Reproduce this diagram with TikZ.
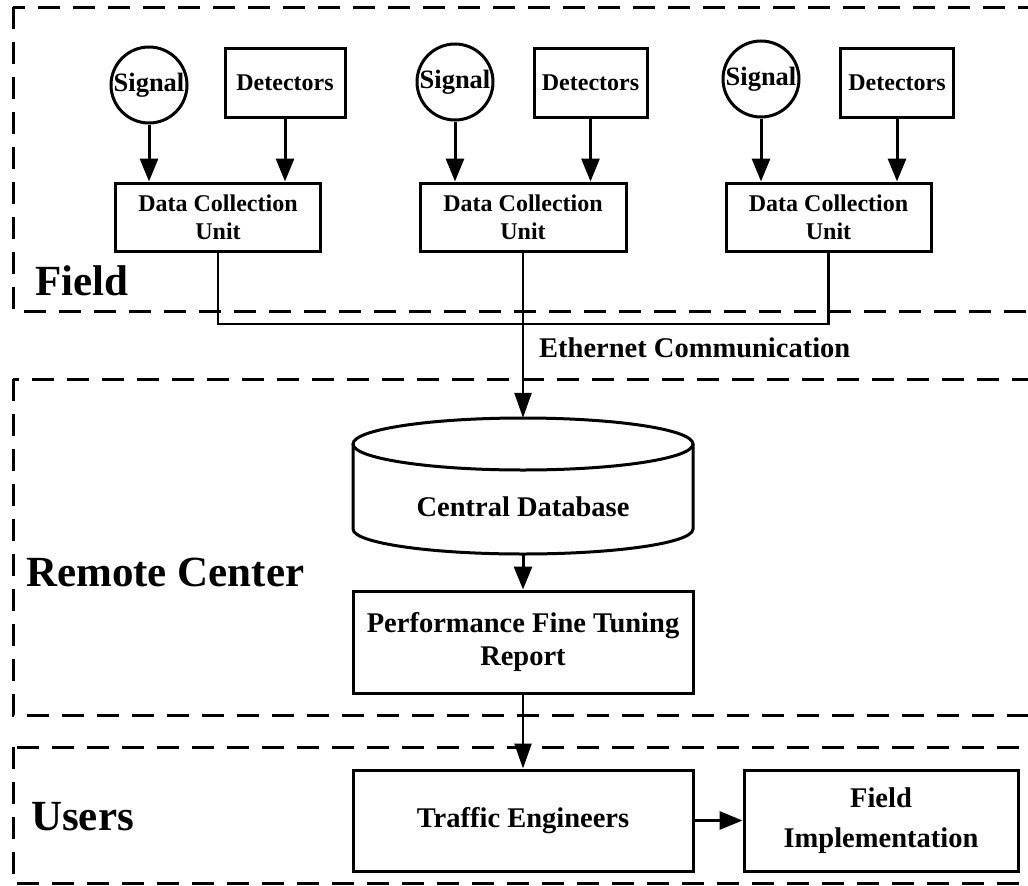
\documentclass[tikz,border=0pt]{standalone}
\usepackage{fontspec}
\setmainfont{Liberation Serif}
\usetikzlibrary{arrows.meta}

\begin{document}
\begin{tikzpicture}[x=1pt,y=-1pt,
  frame/.style={line width=3pt, dash pattern=on 22pt off 13pt},
  box/.style={draw, line width=3pt, inner sep=2pt, align=center},
  sigcirc/.style={draw, circle, line width=3pt, minimum size=76pt, inner sep=0pt,
    font=\fontsize{26.5}{28}\selectfont\bfseries},
  small/.style={font=\fontsize{24}{28}\selectfont\bfseries},
  large/.style={font=\fontsize{28.5}{33}\selectfont\bfseries},
  zone/.style={font=\fontsize{43}{48}\selectfont\bfseries, inner sep=0pt, anchor=base west},
  arr/.style={line width=3pt, -{Triangle[length=23pt,width=18pt]}},
  link/.style={line width=2.5pt},
]
\useasboundingbox (0,0) rectangle (1028,886);
\clip (0,0) rectangle (1028,886);

% dashed zone frames (they run past the right edge)
\draw[frame] (13,7) rectangle (1080,311);
\draw[frame] (13,379) rectangle (1080,715);
\draw[frame] (13,747) rectangle (1080,883);

\node[zone] (lfield) at (35,295) {Field};
\node[zone] (lremote) at (26,586) {Remote Center};
\node[zone] (lusers) at (31,830) {Users};

% field devices
\node[sigcirc] (sig1) at (149,85) {Signal};
\node[box, small, minimum width=120pt, minimum height=69pt] (det1) at (285,82.5) {Detectors};
\node[box, small, minimum width=205pt, minimum height=68pt] (dcu1) at (218,217) {Data Collection\\Unit};

\node[sigcirc] (sig2) at (455,82) {Signal};
\node[box, small, minimum width=113pt, minimum height=69pt] (det2) at (590.5,82.5) {Detectors};
\node[box, small, minimum width=206pt, minimum height=68pt] (dcu2) at (523,217) {Data Collection\\Unit};

\node[sigcirc] (sig3) at (761,79) {Signal};
\node[box, small, minimum width=113pt, minimum height=69pt] (det3) at (897,82.5) {Detectors};
\node[box, small, minimum width=205pt, minimum height=68pt] (dcu3) at (828.5,217) {Data Collection\\Unit};

\foreach \i in {1,2,3}{
  \draw[arr] (sig\i.south) -- (sig\i.south |- dcu\i.north);
  \draw[arr] (det\i.south) -- (det\i.south |- dcu\i.north);
}

% remote center
\node[minimum width=340pt, minimum height=136pt, inner sep=0pt] (db) at (523,486) {};
\draw[line width=3pt] (523,444) ellipse [x radius=170pt, y radius=26pt];
\draw[line width=3pt] (353,444) -- (353,529)
  arc[start angle=180, end angle=360, x radius=170pt, y radius=25pt] -- (693,444);
\node[large, inner sep=0pt] (dbtext) at (523,507) {Central Database};

\node[box, large, minimum width=340pt, minimum height=102pt] (pft) at (523,642)
  {Performance Fine Tuning\\Report};

% users
\node[box, large, minimum width=340pt, minimum height=101pt] (te) at (523,820.5) {Traffic Engineers};
\node[box, font=\fontsize{28.5}{40}\selectfont\bfseries, minimum width=274pt, minimum height=101pt]
  (fi) at (881,820.5) {Field\\Implementation};

% ethernet bus
\coordinate (bus) at (0,324);
\draw[link] (dcu1.south) |- (bus -| dcu3.south) -- (dcu3.south);
\draw[link, -{Triangle[length=25pt,width=17pt]}] (dcu2.south) -- (db.north);
\node[large, inner sep=0pt, anchor=base west] (eth) at (539,357.5) {Ethernet Communication};

\draw[arr] (db.south) -- (pft.north);
\draw[link, -{Triangle[length=25pt,width=17pt]}] (pft.south) -- (te.north);
\draw[arr] (te.east) -- (fi.west);
\end{tikzpicture}
\end{document}
